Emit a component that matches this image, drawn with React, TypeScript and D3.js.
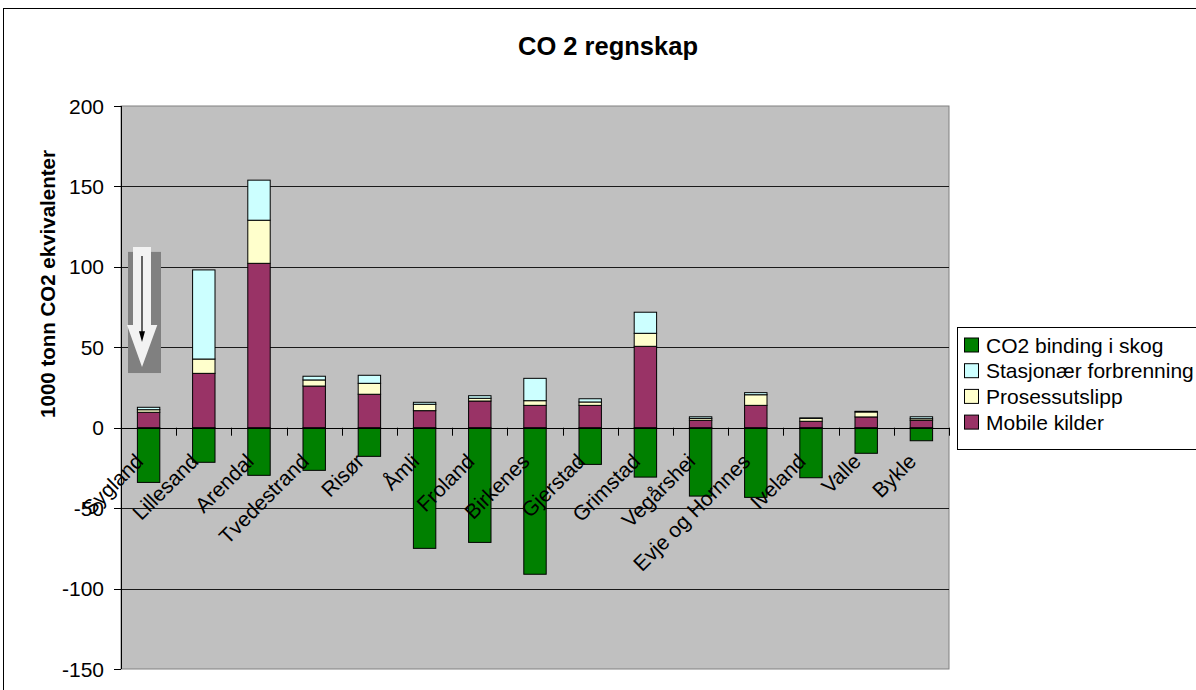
import React from 'react';
import * as d3 from 'd3';

// Municipalities along the category axis
const categories = [
  'Sygland', 'Lillesand', 'Arendal', 'Tvedestrand', 'Risør', 'Åmli', 'Froland',
  'Birkenes', 'Gjerstad', 'Grimstad', 'Vegårshei', 'Evje og Hornnes', 'Iveland',
  'Valle', 'Bykle',
];

// 1000 tonn CO2-ekvivalenter per municipality
const mobileKilder = [9.6, 33.8, 102.2, 25.9, 20.8, 10.6, 16.6, 13.9, 13.9, 50.6, 4.6, 13.9, 4.0, 6.7, 4.6];
const prosessutslipp = [1.6, 8.9, 26.8, 3.8, 6.8, 4.0, 1.7, 2.9, 2.1, 8.1, 1.2, 6.6, 1.8, 3.1, 1.0];
const stasjonaerForbrenning = [1.5, 55.4, 24.9, 2.3, 5.0, 1.2, 1.6, 13.9, 2.0, 13.1, 1.0, 1.3, 0.3, 0.4, 1.2];
const co2BindingSkog = [-34.0, -21.5, -29.6, -26.5, -17.8, -75.0, -71.3, -91.1, -22.8, -30.7, -42.5, -43.3, -31.1, -15.9, -8.1];

const yTicks = [-150, -100, -50, 0, 50, 100, 150, 200];

const seriesNames = ['CO2 binding i skog', 'Stasjonær forbrenning', 'Prosessutslipp', 'Mobile kilder'];
const seriesColors: Record<string, string> = {
  'CO2 binding i skog': '#008000',
  'Stasjonær forbrenning': '#CCFFFF',
  'Prosessutslipp': '#FFFFCC',
  'Mobile kilder': '#993366',
};

const FONT = '"Liberation Sans", Arial, Helvetica, sans-serif';

export default function App() {
  const W = 1196;
  const H = 690;
  const plot = { left: 121, right: 949, top: 106, bottom: 669 };

  const x = d3
    .scaleBand<string>()
    .domain(categories)
    .range([plot.left, plot.right])
    .paddingInner(0.594)
    .paddingOuter(0.297);

  const y = d3.scaleLinear().domain([-150, 200]).range([plot.bottom, plot.top]);
  const step = x.step();

  // positive stack: Mobile kilder at the base, then Prosessutslipp, then Stasjonær forbrenning
  const rows = categories.map((c, i) => ({
    cat: c,
    'Mobile kilder': mobileKilder[i],
    'Prosessutslipp': prosessutslipp[i],
    'Stasjonær forbrenning': stasjonaerForbrenning[i],
  }));
  const stack = d3
    .stack<any>()
    .keys(['Mobile kilder', 'Prosessutslipp', 'Stasjonær forbrenning']);
  const stacked = stack(rows);

  const crisp = (v: number) => Math.round(v) + 0.5;
  const y0 = y(0);

  // arrow annotation beside the first bar
  const cx0 = (x(categories[0]) as number) + x.bandwidth() / 2;

  return (
    <svg
      width={W}
      height={H}
      style={{ position: 'absolute', left: 0, top: 0, background: '#fff' }}
      fontFamily={FONT}
    >
      {/* chart area frame */}
      <rect x={3.5} y={8.5} width={1300} height={900} fill="#fff" stroke="#000" strokeWidth={1} />

      {/* title */}
      <text x={608} y={55} textAnchor="middle" fontSize={25.5} fontWeight="bold" fill="#000">
        CO 2 regnskap
      </text>

      {/* plot area */}
      <rect
        x={plot.left}
        y={plot.top}
        width={plot.right - plot.left}
        height={plot.bottom - plot.top}
        fill="#C0C0C0"
        stroke="#808080"
        strokeWidth={1}
      />

      {/* gridlines */}
      {yTicks
        .filter((t) => t !== 0 && t !== -150 && t !== 200)
        .map((t) => (
          <line
            key={'g' + t}
            x1={plot.left}
            x2={plot.right}
            y1={crisp(y(t))}
            y2={crisp(y(t))}
            stroke="#1a1a1a"
            strokeWidth={1}
          />
        ))}

      {/* y axis */}
      <line x1={crisp(plot.left)} x2={crisp(plot.left)} y1={plot.top} y2={plot.bottom} stroke="#000" />
      {yTicks.map((t) => (
        <g key={'yt' + t}>
          <line x1={plot.left - 7} x2={plot.left} y1={crisp(y(t))} y2={crisp(y(t))} stroke="#000" />
          <text x={104} y={y(t)} dy="0.36em" textAnchor="end" fontSize={21} fill="#000">
            {t}
          </text>
        </g>
      ))}

      {/* arrow annotation */}
      <g>
        <rect
          x={cx0 - 20.6}
          y={y(109.3)}
          width={33}
          height={y(34) - y(109.3)}
          fill="#808080"
        />
        <path
          d={`M${cx0 - 15.6},${y(112.4)} L${cx0 + 2.4},${y(112.4)} L${cx0 + 2.4},${y(63.9)} L${cx0 + 8.7},${y(63.9)} L${cx0 - 6.6},${y(37.8)} L${cx0 - 21.6},${y(63.9)} L${cx0 - 15.6},${y(63.9)} Z`}
          fill="#F2F2F2"
        />
        <line x1={cx0 - 6.6} x2={cx0 - 6.6} y1={y(106.8)} y2={y(57)} stroke="#000" strokeWidth={1.2} />
        <path
          d={`M${cx0 - 9.6},${y(60)} L${cx0 - 3.6},${y(60)} L${cx0 - 6.6},${y(53.3)} Z`}
          fill="#000"
        />
      </g>

      {/* negative series: CO2 binding i skog */}
      {categories.map((c, i) => {
        const v = co2BindingSkog[i];
        return (
          <rect
            key={'neg' + c}
            x={x(c)}
            y={y(0)}
            width={x.bandwidth()}
            height={y(v) - y(0)}
            fill={seriesColors['CO2 binding i skog']}
            stroke="#000"
            strokeWidth={1}
          />
        );
      })}

      {/* positive stacked series */}
      {stacked.map((layer) =>
        layer.map((d, i) => (
          <rect
            key={layer.key + i}
            x={x(categories[i])}
            y={y(d[1])}
            width={x.bandwidth()}
            height={y(d[0]) - y(d[1])}
            fill={seriesColors[layer.key]}
            stroke="#000"
            strokeWidth={1}
          />
        ))
      )}

      {/* category axis at zero */}
      <line x1={plot.left} x2={plot.right} y1={crisp(y0)} y2={crisp(y0)} stroke="#000" />
      {d3.range(1, categories.length + 1).map((k) => (
        <line
          key={'xt' + k}
          x1={crisp(plot.left + k * step)}
          x2={crisp(plot.left + k * step)}
          y1={y0}
          y2={y0 + 8}
          stroke="#000"
        />
      ))}
      {categories.map((c) => {
        const cx = (x(c) as number) + x.bandwidth() / 2;
        return (
          <text
            key={'xl' + c}
            transform={`translate(${cx - 4},${y0 + 35}) rotate(-45)`}
            textAnchor="end"
            fontSize={21}
            fill="#000"
          >
            {c}
          </text>
        );
      })}

      {/* y axis title */}
      <text
        transform={`translate(${55},${284}) rotate(-90)`}
        textAnchor="middle"
        fontSize={20.5}
        fontWeight="bold"
        fill="#000"
      >
        1000 tonn CO2 ekvivalenter
      </text>

      {/* legend */}
      <rect x={957.5} y={327.5} width={300} height={122} fill="#fff" stroke="#000" />
      {seriesNames.map((s, i) => {
        const cy = 345 + i * 25.7;
        return (
          <g key={'lg' + s}>
            <rect x={964.5} y={cy - 7} width={14} height={14} fill={seriesColors[s]} stroke="#000" />
            <text x={986} y={cy} dy="0.36em" fontSize={21} fill="#000">
              {s}
            </text>
          </g>
        );
      })}
    </svg>
  );
}
